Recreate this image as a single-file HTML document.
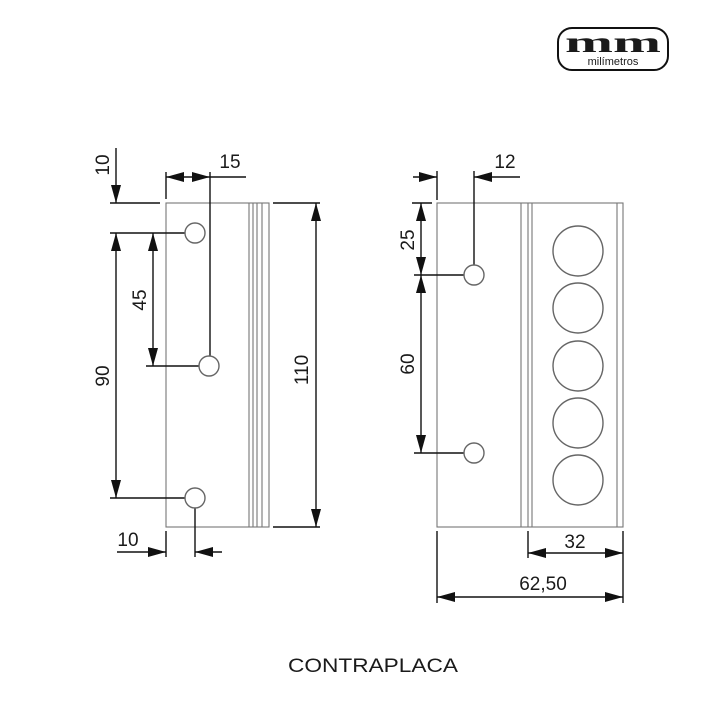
<!DOCTYPE html>
<html><head><style>
html,body{margin:0;padding:0;background:#fff;}
svg text{font-family:"Liberation Sans",sans-serif;fill:#1a1a1a;}
</style></head><body>
<svg width="720" height="720" viewBox="0 0 720 720" xmlns="http://www.w3.org/2000/svg">
<defs>
<marker id="a" viewBox="0 0 18 10" refX="18" refY="5" markerWidth="18" markerHeight="10" markerUnits="userSpaceOnUse" orient="auto-start-reverse">
<path d="M0,0 L18,5 L0,10 z" fill="#111"/>
</marker>
</defs>
<style>
.a{stroke:#111;stroke-width:1.4;fill:none;}
.p{stroke:#777;stroke-width:1.1;fill:none;}
.h{stroke:#666;stroke-width:1.4;fill:#fff;}
</style>
<!-- Logo -->
<rect x="558" y="28" width="110" height="42" rx="14" fill="#fff" stroke="#111" stroke-width="2"/>
<text x="613" y="52" text-anchor="middle" font-weight="bold" font-size="30" style="font-family:'Liberation Serif',serif" fill="#111" textLength="96" lengthAdjust="spacingAndGlyphs">mm</text>
<text x="613" y="65" text-anchor="middle" font-size="11">milímetros</text>

<!-- Left plate -->
<rect x="166" y="203" width="103" height="324" class="p"/>
<line x1="249" y1="203" x2="249" y2="527" class="p"/>
<line x1="253" y1="203" x2="253" y2="527" class="p"/>
<line x1="257" y1="203" x2="257" y2="527" class="p"/>
<line x1="262" y1="203" x2="262" y2="527" class="p"/>
<line x1="110" y1="203" x2="160" y2="203" class="a"/>
<line x1="110" y1="233" x2="186" y2="233" class="a"/>
<line x1="146" y1="366" x2="200" y2="366" class="a"/>
<line x1="110" y1="498" x2="186" y2="498" class="a"/>
<line x1="166" y1="172" x2="166" y2="199" class="a"/>
<line x1="210" y1="172" x2="210" y2="366" class="a"/>
<line x1="273" y1="203" x2="320" y2="203" class="a"/>
<line x1="273" y1="527" x2="320" y2="527" class="a"/>
<line x1="166" y1="531" x2="166" y2="557" class="a"/>
<line x1="195" y1="508" x2="195" y2="557" class="a"/>
<circle cx="195" cy="233" r="10" class="h"/>
<circle cx="209" cy="366" r="10" class="h"/>
<circle cx="195" cy="498" r="10" class="h"/>
<line x1="116" y1="148" x2="116" y2="203" class="a" marker-end="url(#a)"/>
<line x1="116" y1="233" x2="116" y2="498" class="a" marker-start="url(#a)" marker-end="url(#a)"/>
<line x1="153" y1="233" x2="153" y2="366" class="a" marker-start="url(#a)" marker-end="url(#a)"/>
<line x1="166" y1="177" x2="210" y2="177" class="a" marker-start="url(#a)" marker-end="url(#a)"/>
<line x1="210" y1="177" x2="246" y2="177" class="a"/>
<line x1="316" y1="203" x2="316" y2="527" class="a" marker-start="url(#a)" marker-end="url(#a)"/>
<line x1="117" y1="552" x2="166" y2="552" class="a" marker-end="url(#a)"/>
<line x1="222" y1="552" x2="195" y2="552" class="a" marker-end="url(#a)"/>
<text x="230" y="168" font-size="19" text-anchor="middle">15</text>
<text x="128" y="546" font-size="19" text-anchor="middle">10</text>
<text transform="translate(109,165) rotate(-90)" font-size="19" text-anchor="middle">10</text>
<text transform="translate(109,376) rotate(-90)" font-size="19" text-anchor="middle">90</text>
<text transform="translate(146,300) rotate(-90)" font-size="19" text-anchor="middle">45</text>
<text transform="translate(308,370) rotate(-90)" font-size="19" text-anchor="middle">110</text>

<!-- Right plate -->
<rect x="437" y="203" width="186" height="324" class="p"/>
<line x1="521" y1="203" x2="521" y2="527" class="p"/>
<line x1="528" y1="203" x2="528" y2="527" class="p"/>
<line x1="532" y1="203" x2="532" y2="527" class="p"/>
<line x1="617" y1="203" x2="617" y2="527" class="p"/>
<circle cx="578" cy="251" r="25" class="h"/>
<circle cx="578" cy="308" r="25" class="h"/>
<circle cx="578" cy="366" r="25" class="h"/>
<circle cx="578" cy="423" r="25" class="h"/>
<circle cx="578" cy="480" r="25" class="h"/>
<line x1="412" y1="203" x2="432" y2="203" class="a"/>
<line x1="414" y1="275" x2="466" y2="275" class="a"/>
<line x1="414" y1="453" x2="466" y2="453" class="a"/>
<line x1="437" y1="171" x2="437" y2="200" class="a"/>
<line x1="474" y1="171" x2="474" y2="275" class="a"/>
<circle cx="474" cy="275" r="10" class="h"/>
<circle cx="474" cy="453" r="10" class="h"/>
<line x1="421" y1="203" x2="421" y2="275" class="a" marker-start="url(#a)" marker-end="url(#a)"/>
<line x1="421" y1="275" x2="421" y2="453" class="a" marker-start="url(#a)" marker-end="url(#a)"/>
<line x1="413" y1="177" x2="437" y2="177" class="a" marker-end="url(#a)"/>
<line x1="520" y1="177" x2="474" y2="177" class="a" marker-end="url(#a)"/>
<line x1="528" y1="531" x2="528" y2="558" class="a"/>
<line x1="623" y1="531" x2="623" y2="603" class="a"/>
<line x1="437" y1="531" x2="437" y2="603" class="a"/>
<line x1="528" y1="553" x2="623" y2="553" class="a" marker-start="url(#a)" marker-end="url(#a)"/>
<line x1="437" y1="597" x2="623" y2="597" class="a" marker-start="url(#a)" marker-end="url(#a)"/>
<text x="505" y="168" font-size="19" text-anchor="middle">12</text>
<text x="575" y="548" font-size="19" text-anchor="middle">32</text>
<text x="543" y="590" font-size="19" text-anchor="middle">62,50</text>
<text transform="translate(414,240) rotate(-90)" font-size="19" text-anchor="middle">25</text>
<text transform="translate(414,364) rotate(-90)" font-size="19" text-anchor="middle">60</text>

<text x="373" y="672" font-size="19" text-anchor="middle" textLength="170" lengthAdjust="spacingAndGlyphs">CONTRAPLACA</text>
</svg>
</body></html>
